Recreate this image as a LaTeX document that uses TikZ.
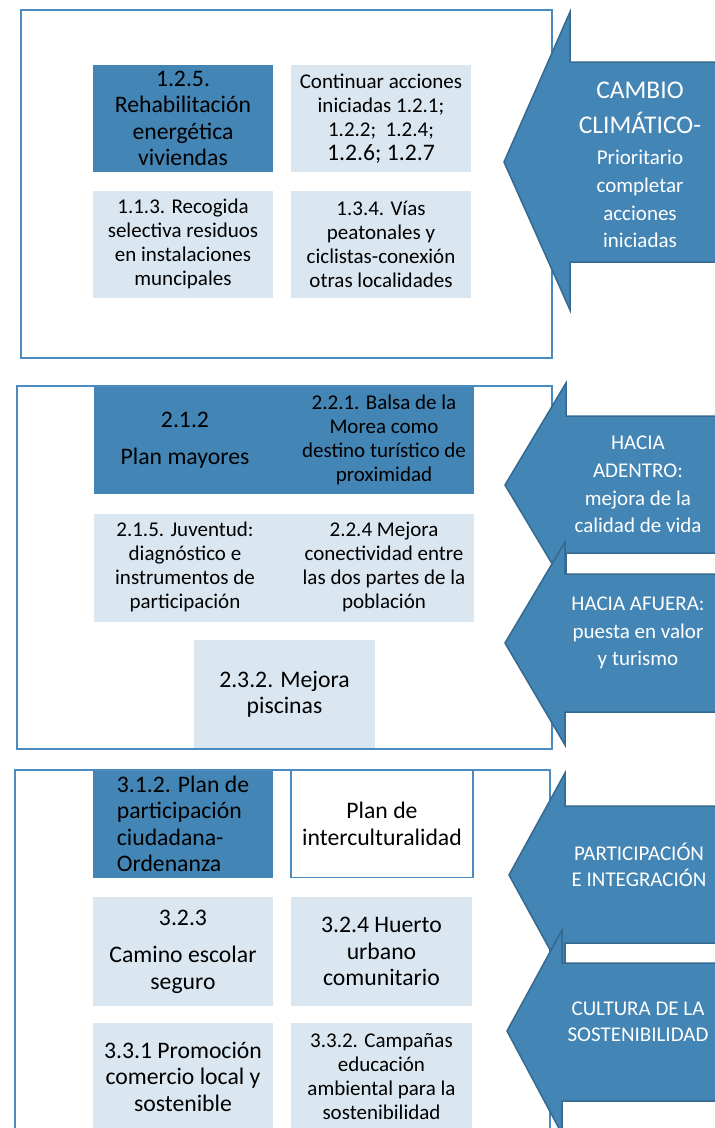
\documentclass[tikz,border=0pt]{standalone}
\usepackage{fontspec}
\setmainfont{Carlito}
\definecolor{darkfill}{HTML}{4385B5}
\definecolor{lightfill}{HTML}{DAE7F0}
\definecolor{framecol}{HTML}{4A8CC2}
\definecolor{arrowedge}{HTML}{35698F}
\tikzset{
  box/.style={inner sep=0pt, minimum width=180pt, minimum height=107pt, align=center, text=black},
  darkbox/.style={box, fill=darkfill},
  lightbox/.style={box, fill=lightfill},
  framebox/.style={draw=framecol, line width=2pt},
  bigarrow/.style={fill=darkfill, draw=arrowedge, line width=1.5pt, line join=miter},
  atext/.style={text=white, align=center, inner sep=0pt},
  fsm/.style={font=\fontsize{21}{24}\selectfont},
  fbg/.style={font=\fontsize{23.7}{26.5}\selectfont},
  fat/.style={font=\fontsize{21}{27.7}\selectfont},
  fcap/.style={font=\fontsize{25.5}{35}\selectfont},
  ttxt/.style={align=center, inner sep=0pt, text=black}
}
\begin{document}
\begin{tikzpicture}[x=1pt,y=-1pt]
\useasboundingbox (0,0) rectangle (715,1128);
\fill[white] (0,0) rectangle (715,1128);
% frames
\draw[framebox] (21,10) rectangle (552,358);
\draw[framebox] (17,386) rectangle (552,749);
\draw[framebox] (15,770) rectangle (550,1145);

% section 1
\node[darkbox, fbg] (b125) at (183,118.5) {1.2.5.\\Rehabilitación\\energética\\viviendas};
\node[lightbox, fsm] (bcont) at (381,118.5) {Continuar acciones\\iniciadas 1.2.1;\\1.2.2;\ \ 1.2.4;\\{\fontsize{23.7}{26.5}\selectfont 1.2.6; 1.2.7}};
\node[lightbox, fsm] (b113) at (183,244) {1.1.3. Recogida\\selectiva residuos\\en instalaciones\\muncipales};
\node[lightbox, fsm] (b134) at (381,244) {1.3.4. Vías\\peatonales y\\ciclistas-conexión\\otras localidades};

% section 2
\node[darkbox, minimum width=380pt, minimum height=107pt] (b2top) at (284,440.5) {};
\node[ttxt, fbg] (t212) at (185,440) {2.1.2\\[11pt]Plan mayores};
\node[ttxt, fsm] (t221) at (384,440) {2.2.1. Balsa de la\\Morea como\\destino turístico de\\proximidad};
\node[lightbox, minimum width=380pt, minimum height=108pt] (b2mid) at (284,567.5) {};
\node[ttxt, fsm] (t215) at (185,567) {2.1.5. Juventud:\\diagnóstico e\\instrumentos de\\participación};
\node[ttxt, fsm] (t224) at (384,567) {2.2.4 Mejora\\conectividad entre\\las dos partes de la\\población};
\node[lightbox, fbg, minimum width=181pt, minimum height=108pt] (b232) at (284.5,694) {2.3.2. Mejora\\piscinas};

% section 3
\node[darkbox, fbg, align=left] (b312) at (183,824) {3.1.2. Plan de\\participación\\ciudadana-\\Ordenanza};
\node[box, fbg, fill=white, draw=framecol, line width=1.5pt, minimum width=182pt] (bplan) at (382,824) {Plan de\\interculturalidad};
\node[lightbox, fbg, minimum height=109pt] (b323) at (183,951.5) {3.2.3\\[11pt]Camino escolar\\seguro};
\node[lightbox, fbg, minimum width=181pt, minimum height=109pt] (b324) at (381.5,951.5) {3.2.4 Huerto\\urbano\\comunitario};
\node[lightbox, fbg] (b331) at (183,1076.5) {3.3.1 Promoción\\comercio local y\\sostenible};
\node[lightbox, fsm, minimum width=181pt] (b332) at (381.5,1076.5) {3.3.2. Campañas\\educación\\ambiental para la\\sostenibilidad};

% arrows
\draw[bigarrow] (504,162) -- (570,12) -- (570,62) -- (722,62) -- (722,262) -- (570,262) -- (570,310) -- cycle;
\draw[bigarrow] (505,485) -- (566,383) -- (566,416) -- (722,416) -- (722,553) -- (566,553) -- (566,587) -- cycle;
\draw[bigarrow] (505,643) -- (565,542) -- (565,574) -- (722,574) -- (722,712) -- (565,712) -- (565,745) -- cycle;
\draw[bigarrow] (509,875) -- (565,773) -- (565,806) -- (722,806) -- (722,943) -- (565,943) -- (565,977) -- cycle;
\draw[bigarrow] (507,1031) -- (562,930) -- (562,963) -- (722,963) -- (722,1101) -- (562,1101) -- (562,1134) -- cycle;

% arrow texts
\node[atext, fcap] (a1a) at (640,107.5) {CAMBIO\\CLIMÁTICO-};
\node[atext, fat] (a1b) at (640,199) {Prioritario\\completar\\acciones\\iniciadas};
\node[atext, fat] (a2a) at (638,484.5) {HACIA\\ADENTRO:\\mejora de la\\calidad de vida};
\node[atext, fat] (a2b) at (638,633) {HACIA AFUERA:\\puesta en valor\\y turismo};
\node[atext, fsm, font=\fontsize{21}{26}\selectfont] (a3a) at (639,865) {PARTICIPACIÓN\\E INTEGRACIÓN};
\node[atext, font=\fontsize{21}{26}\selectfont] (a3b) at (638,1021.5) {CULTURA DE LA\\SOSTENIBILIDAD};
\end{tikzpicture}
\end{document}
